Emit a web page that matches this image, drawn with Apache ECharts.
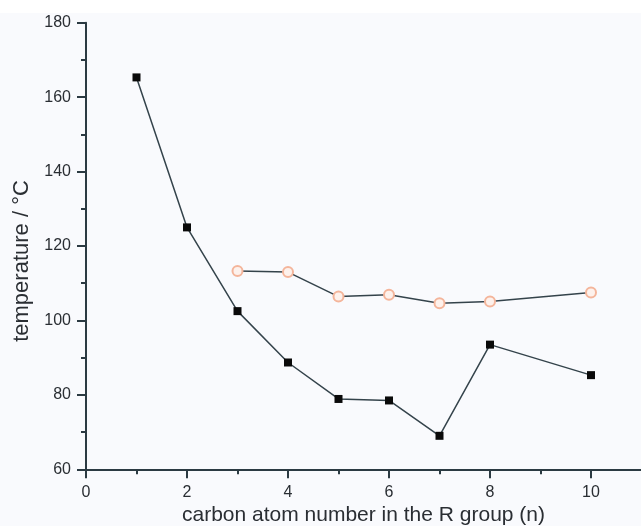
<!DOCTYPE html>
<html>
<head>
<meta charset="utf-8">
<script src="https://cdn.jsdelivr.net/npm/echarts@6/dist/echarts.min.js"></script>
<style>
html,body{margin:0;padding:0;background:#ffffff;}
#chart{width:641px;height:526px;}
</style>
</head>
<body>
<div id="chart"></div>
<script>
// Data
const squareX = [1, 2, 3, 4, 5, 6, 7, 8, 10];
const squareY = [165.3, 125.0, 102.5, 88.7, 78.9, 78.5, 69.0, 93.5, 85.3];
const circleX = [3, 4, 5, 6, 7, 8, 10];
const circleY = [113.3, 113.0, 106.4, 106.9, 104.6, 105.1, 107.5];
const xTitle = 'carbon atom number in the R group (n)';
const yTitle = 'temperature / \u00B0C';

const chart = echarts.init(document.getElementById('chart'), null, {renderer: 'canvas'});
const axisColor = '#2b3a42';
const textColor = '#2a2e33';
const option = {
  backgroundColor: '#f9fafd',
  animation: false,
  graphic: [{type: 'rect', left: 0, top: 0, shape: {width: 641, height: 13}, style: {fill: '#ffffff'}, z: -10, silent: true}],
  grid: {left: 86, right: -51, top: 22.7, bottom: 56.7, containLabel: false, outerBoundsMode: 'none'},
  xAxis: {
    type: 'value', min: 0, max: 12, interval: 2,
    name: xTitle, nameLocation: 'middle', nameGap: 31,
    nameTextStyle: {fontFamily: 'Liberation Sans, Arial', fontSize: 21, color: textColor, padding: [0, 51, 0, 0]},
    axisLine: {show: true, lineStyle: {color: axisColor, width: 2}},
    axisTick: {show: true, inside: false, length: 9, lineStyle: {color: axisColor, width: 2}},
    minorTick: {show: true, splitNumber: 2, length: 5, lineStyle: {color: axisColor, width: 2}},
    axisLabel: {fontFamily: 'Liberation Sans, Arial', fontSize: 16, color: textColor, margin: 15},
    splitLine: {show: false}
  },
  yAxis: {
    type: 'value', min: 60, max: 180, interval: 20,
    name: yTitle, nameLocation: 'middle', nameGap: 51, nameRotate: 90,
    nameTextStyle: {fontFamily: 'Liberation Sans, Arial', fontSize: 22, color: textColor, padding: [0, 30, 0, 0]},
    axisLine: {show: true, lineStyle: {color: axisColor, width: 2}},
    axisTick: {show: true, inside: false, length: 9, lineStyle: {color: axisColor, width: 2}},
    minorTick: {show: true, splitNumber: 2, length: 5, lineStyle: {color: axisColor, width: 2}},
    axisLabel: {fontFamily: 'Liberation Sans, Arial', fontSize: 16, color: textColor, margin: 15},
    splitLine: {show: false}
  },
  series: [
    {
      type: 'line',
      data: squareX.map((x, i) => [x, squareY[i]]),
      symbol: 'rect', symbolSize: 8,
      itemStyle: {color: '#0a0a0a'},
      lineStyle: {color: '#34434b', width: 1.5},
      z: 3
    },
    {
      type: 'line',
      data: circleX.map((x, i) => [x, circleY[i]]),
      symbol: 'circle', symbolSize: 10,
      itemStyle: {color: '#fdf1ec', borderColor: '#f4b59b', borderWidth: 2},
      lineStyle: {color: '#34434b', width: 1.5},
      z: 2
    }
  ]
};
chart.setOption(option);
</script>
</body>
</html>
